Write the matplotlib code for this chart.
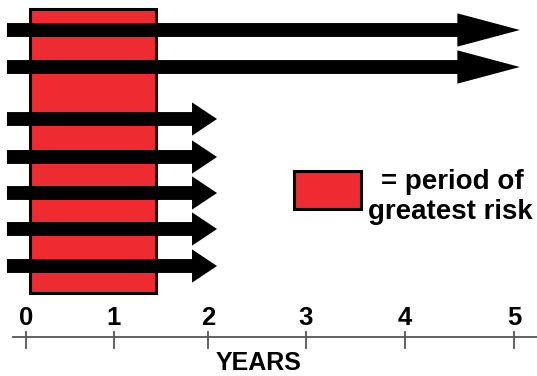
import matplotlib.pyplot as plt
from matplotlib.patches import Rectangle

plt.rcParams['font.family'] = ['Liberation Sans', 'DejaVu Sans']

# follow-up arrows (years), rows drawn top to bottom
arrow_start = -0.195
arrow_ends = [5.06, 5.06, 1.957, 1.957, 1.957, 1.957, 1.957]
arrow_rows = [30, 67, 119, 157, 193, 229, 266]
head_lengths = [45, 45, 18, 18, 18, 18, 18]

# period of greatest risk (years)
risk_start, risk_end = 0.046, 1.327

# year axis, tick places as drawn in the original
tick_years = [0, 0.902, 1.865, 2.869, 3.883, 5.0]
tick_labels = ["0", "1", "2", "3", "4", "5"]

red = "#ED2B30"

fig = plt.figure(figsize=(5.37, 3.76), dpi=100)
ax = fig.add_axes([0, 0, 1, 1])
px = 97.6  # pixels per year
ax.set_xlim(-26 / px, (537 - 26) / px)
ax.set_ylim(376, 0)
ax.axis("off")

# red box
ax.add_patch(Rectangle((risk_start, 8.5), risk_end - risk_start, 284,
                       facecolor=red, edgecolor="black", linewidth=2.2, zorder=1))

# arrows
for end, y, hl in zip(arrow_ends, arrow_rows, head_lengths):
    ax.annotate("", xy=(end, y), xytext=(arrow_start, y),
                arrowprops=dict(arrowstyle=f"simple,head_length={hl},head_width=24,tail_width=10",
                                color="black", lw=0, shrinkA=0, shrinkB=0,
                                mutation_scale=1), zorder=2)

# legend
ax.add_patch(Rectangle((2.747, 170.5), 0.684, 38,
                       facecolor=red, edgecolor="black", linewidth=2.2))
ax.text(4.365, 189, "= period of", fontsize=20, fontweight="bold",
        ha="center", va="baseline")
ax.text(4.344, 219, "greatest risk", fontsize=20, fontweight="bold",
        ha="center", va="baseline")

# year axis
axis_y = 337
ax.plot([-13 / px, 537 / px], [axis_y, axis_y], color="#555555", lw=1.3)
for t, lab in zip(tick_years, tick_labels):
    ax.plot([t, t], [332, 348], color="#555555", lw=1.3)
    ax.text(t, 318, lab, fontsize=18.5, fontweight="bold", ha="center", va="center")
ax.text(2.38, 363, "YEARS", fontsize=18, fontweight="bold", ha="center", va="center")

fig.savefig("out.png", dpi=100)
